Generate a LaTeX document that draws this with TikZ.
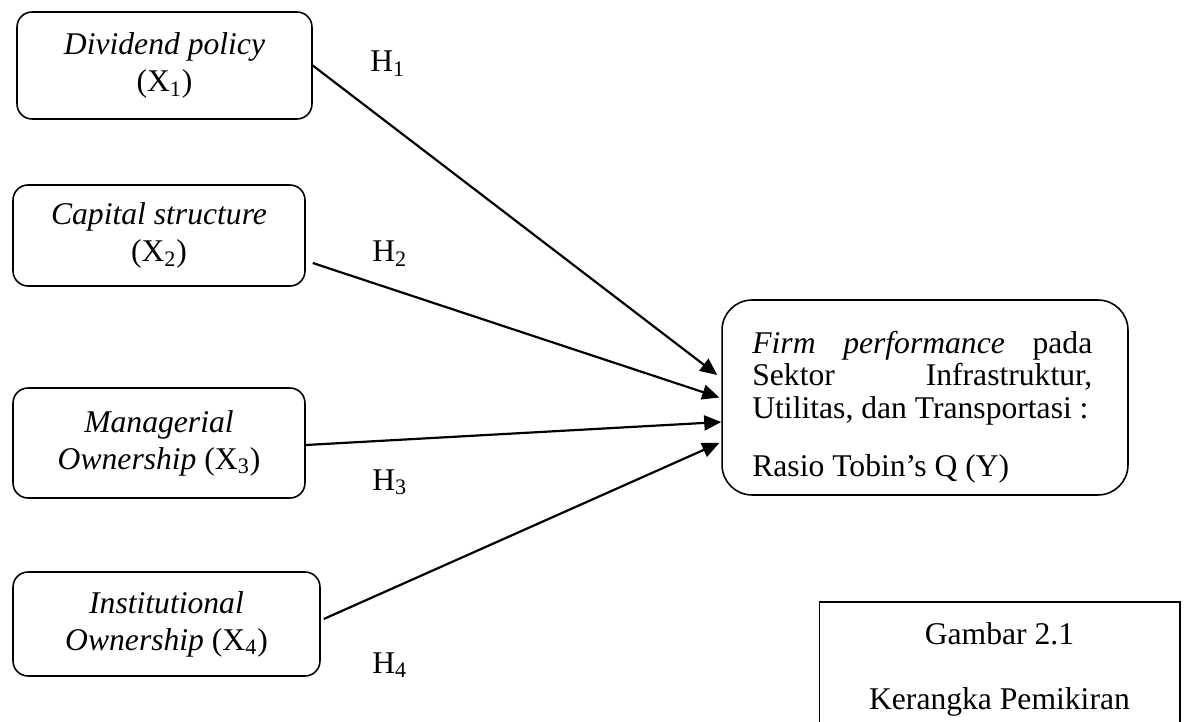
\documentclass[tikz,border=0pt]{standalone}
\usepackage{fontspec}
\setmainfont{Liberation Serif}
\usetikzlibrary{arrows.meta,positioning,calc}

\begin{document}
\begin{tikzpicture}[x=0.02cm, y=-0.02cm,
    var/.style={draw, line width=0.9pt, rounded corners=0.3cm, align=center,
        inner sep=0pt, font=\fontsize{18}{21}\selectfont},
    hyp/.style={anchor=base west, inner sep=0pt, font=\fontsize{18}{21}\selectfont},
    panah/.style={line width=1.25pt, -{Triangle[length=0.34cm,width=0.3cm]}}]
    \useasboundingbox (0,0) rectangle (1189,722);
    \clip (0,0) rectangle (1189,722);

    % Variabel independen
    \node[var, minimum width=5.9cm, minimum height=2.14cm] (x1) at (164.5,65.5)
        {\textit{Dividend policy}\\(X\textsubscript{1})};
    \node[var, minimum width=5.84cm, minimum height=2.02cm] (x2) at (159,235.5)
        {\textit{Capital structure}\\(X\textsubscript{2})};
    \node[var, minimum width=5.84cm, minimum height=2.2cm] (x3) at (159,443)
        {\textit{Managerial}\\\textit{Ownership} (X\textsubscript{3})};
    \node[var, minimum width=6.14cm, minimum height=2.08cm] (x4) at (166.5,624)
        {\textit{Institutional}\\\textit{Ownership} (X\textsubscript{4})};

    % Variabel dependen
    \node[draw, line width=0.9pt, rounded corners=0.6cm, minimum width=8.12cm,
        minimum height=3.9cm] (fp) at (925,397.5) {};
    \node[anchor=north west, inner sep=0pt] (fptxt) at (752,331)
        {\begin{minipage}[t]{6.8cm}\fontsize{18}{18.4}\selectfont
         \hbox to\linewidth{\textit{Firm}\hfill\textit{performance}\hfill pada}
         \hbox to\linewidth{Sektor\hfill Infrastruktur,}
         \hbox{Utilitas, dan Transportasi :}
         \vskip 14.6pt
         \hbox{Rasio Tobin’s Q (Y)}
         \end{minipage}};

    % Keterangan gambar
    \node[draw, line width=0.6pt, minimum width=7.22cm, minimum height=2.68cm,
        align=center, font=\fontsize{18}{37}\selectfont] (cap) at (999.5,669)
        {Gambar 2.1\\Kerangka Pemikiran};

    % Hipotesis
    \node[hyp] (h1) at (370,72) {H\textsubscript{1}};
    \node[hyp] (h2) at (372,262) {H\textsubscript{2}};
    \node[hyp] (h3) at (372,490) {H\textsubscript{3}};
    \node[hyp] (h4) at (372,673) {H\textsubscript{4}};

    % Panah
    \draw[panah] (x1.east) -- ([shift={(-4,-22.5)}]fp.west);
    \draw[panah] ([shift={(7,27.5)}]x2.east) -- ([shift={(-2,0)}]fp.west);
    \draw[panah] ([shift={(0,2)}]x3.east) -- ([shift={(0,24.5)}]fp.west);
    \draw[panah] ([shift={(3,-5)}]x4.east) -- ([shift={(-2,45.5)}]fp.west);
\end{tikzpicture}
\end{document}
